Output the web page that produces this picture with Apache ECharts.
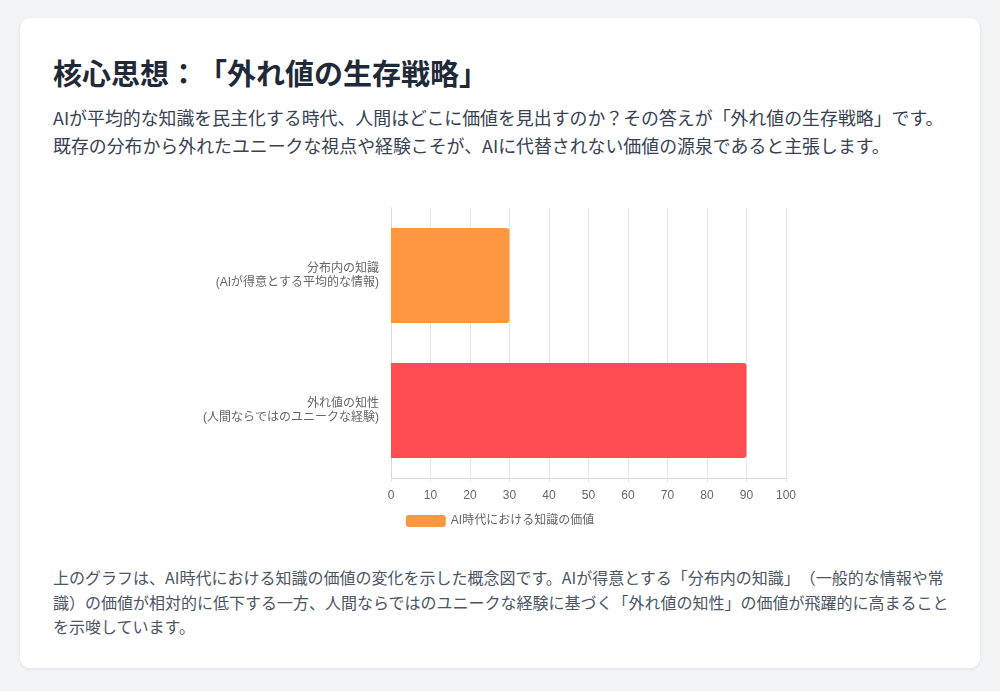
<!DOCTYPE html>
<html lang="ja">
<head>
<meta charset="utf-8">
<script src="https://cdn.jsdelivr.net/npm/echarts@6/dist/echarts.min.js"></script>
<style>
  html, body { margin: 0; padding: 0; }
  body { width: 1000px; height: 691px; background: #f3f4f6; position: relative; overflow: hidden;
         font-family: "Noto Sans CJK JP", "Noto Sans", sans-serif; text-spacing-trim: space-all; }
  .card { position: absolute; left: 20px; top: 18px; width: 960px; height: 650px; background: #fff;
          border-radius: 10px; box-shadow: 0 1px 4px rgba(0,0,0,0.08); }
  .title { position: absolute; left: 53px; top: 52px; margin: 0; font-size: 29px; font-weight: 700;
           color: #1f2937; line-height: 40px; white-space: nowrap; text-spacing-trim: space-all; }
  .p1 { position: absolute; left: 53px; top: 103px; margin: 0; font-size: 17.9px; color: #374151;
        line-height: 28px; white-space: nowrap; text-spacing-trim: space-all; }
  .p2 { position: absolute; left: 53px; top: 565px; margin: 0; font-size: 16px; color: #4b5563;
        line-height: 24.5px; white-space: nowrap; text-spacing-trim: space-all; }
  #chart { position: absolute; left: 200px; top: 190px; width: 600px; height: 350px; }
</style>
</head>
<body>
<div class="card"></div>
<h1 class="title">核心思想：「外れ値の生存戦略」</h1>
<p class="p1">AIが平均的な知識を民主化する時代、人間はどこに価値を見出すのか？その答えが「外れ値の生存戦略」です。<br>既存の分布から外れたユニークな視点や経験こそが、AIに代替されない価値の源泉であると主張します。</p>
<div id="chart"></div>
<p class="p2">上のグラフは、AI時代における知識の価値の変化を示した概念図です。AIが得意とする「分布内の知識」（一般的な情報や常<br>識）の価値が相対的に低下する一方、人間ならではのユニークな経験に基づく「外れ値の知性」の価値が飛躍的に高まること<br>を示唆しています。</p>
<script>
const categories = ["分布内の知識\n(AIが得意とする平均的な情報)", "外れ値の知性\n(人間ならではのユニークな経験)"];
const values = [30, 90];
const barColors = ["#ff9640", "#ff4d52"];
const seriesName = "AI時代における知識の価値";
const xTicks = { min: 0, max: 100, interval: 10 };

const chart = echarts.init(document.getElementById('chart'));
const fontFamily = '"Liberation Sans", Arial, "Noto Sans CJK JP", sans-serif';
chart.setOption({
  animation: false,
  textStyle: { fontFamily: fontFamily },
  legend: {
    data: [seriesName], left: 'center', top: 320, itemWidth: 40, itemHeight: 12, itemGap: 10,
    textStyle: { color: '#666', fontSize: 12, fontFamily: fontFamily },
    itemStyle: { color: barColors[0] }
  },
  grid: { left: 190, top: 18, width: 396, height: 270, containLabel: false },
  xAxis: {
    type: 'value', min: xTicks.min, max: xTicks.max, interval: xTicks.interval,
    axisLine: { show: true, lineStyle: { color: '#d9d9d9' } },
    axisTick: { show: true, length: 4, lineStyle: { color: '#e6e6e6' } },
    splitLine: { show: true, lineStyle: { color: '#e6e6e6' } },
    axisLabel: { color: '#666', fontSize: 12, margin: 12, fontFamily: fontFamily }
  },
  yAxis: {
    type: 'category', data: categories, inverse: true,
    axisLine: { show: true, lineStyle: { color: '#d9d9d9' } },
    axisTick: { show: false },
    splitLine: { show: false },
    axisLabel: { color: '#666', fontSize: 12, lineHeight: 14, margin: 12, align: 'right', fontFamily: fontFamily }
  },
  series: [{
    name: seriesName, type: 'bar', barCategoryGap: '29.5%',
    itemStyle: { color: barColors[0], borderRadius: [0, 3, 3, 0] },
    data: values.map((v, i) => ({ value: v, itemStyle: { color: barColors[i] } }))
  }]
});
</script>
</body>
</html>
